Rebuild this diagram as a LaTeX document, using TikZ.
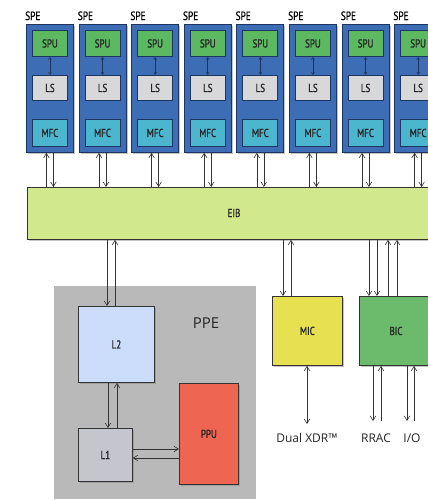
\documentclass[tikz,border=0pt]{standalone}
\usepackage{fontspec}
\setmainfont{Open Sans}
\newfontfamily\cond[FakeStretch=0.78,FakeBold=1.2]{PT Sans}
\newfontfamily\condl[FakeStretch=0.78,FakeBold=0.6]{PT Sans}
\usetikzlibrary{arrows.meta,shadows}
\definecolor{speblue}{HTML}{3D6DB5}
\definecolor{speedge}{HTML}{1F3561}
\definecolor{spugreen}{HTML}{5DB862}
\definecolor{lsgray}{HTML}{D8D8DA}
\definecolor{mfcteal}{HTML}{4DB6CF}
\definecolor{eibgreen}{HTML}{D2E88C}
\definecolor{ppegray}{HTML}{B9B9B9}
\definecolor{l2blue}{HTML}{CCDDFB}
\definecolor{l1gray}{HTML}{C4C5CD}
\definecolor{ppured}{HTML}{EE6552}
\definecolor{micyellow}{HTML}{E7E152}
\definecolor{bicgreen}{HTML}{6CBB6C}
\definecolor{linegray}{HTML}{333333}
\tikzset{
  box/.style={draw=linegray, line width=0.8pt, inner sep=0pt, anchor=north west,
    drop shadow={shadow xshift=1.5pt, shadow yshift=-1.5pt, opacity=0.45}},
  inner/.style={draw=speedge, line width=0.9pt, inner sep=0pt, anchor=north west,
    minimum width=35pt, font=\cond\fontsize{11.5}{12}\selectfont, text=black!85},
  conn/.style={draw=linegray, line width=0.6pt, -{Straight Barb[length=4.5pt,width=5.5pt]}},
  blab/.style={font=\cond\fontsize{11.5}{12}\selectfont, text=black!85},
  lab/.style={font=\fontsize{12}{13}\selectfont, text=black!85},
}
\begin{document}
\begin{tikzpicture}[x=1pt,y=-1pt]
\useasboundingbox (0,0) rectangle (428,501);
\fill[white] (0,0) rectangle (428,501);
% EIB
\node[box, fill=eibgreen, minimum width=420pt, minimum height=52pt] (eib) at (27,187) {};
\node[blab] at (234,213) {EIB};
% SPEs
\foreach \i in {0,...,7}{
  \pgfmathsetmacro{\L}{26+52.6*\i}
  \node[box, draw=speedge, fill=speblue, minimum width=47pt, minimum height=128pt] (spe\i) at (\L,24) {};
  \node[anchor=base west, inner sep=0pt, font=\condl\fontsize{12}{13}\selectfont] (spel\i) at (\L-1,20) {SPE};
  \node[inner, fill=spugreen, minimum height=26pt] (spu\i) at (\L+6,30) {SPU};
  \node[inner, fill=lsgray, minimum height=25pt] (ls\i) at (\L+6,75) {LS};
  \node[inner, fill=mfcteal, minimum height=27pt] (mfc\i) at (\L+6,119) {MFC};
  \draw[draw=speedge, line width=0.6pt, {Straight Barb[length=2.5pt,width=3pt]}-{Straight Barb[length=2.5pt,width=3pt]}] (spu\i.south) -- (ls\i.north);
  \draw[conn] ([xshift=-3.5pt]spe\i.south |- eib.north) -- ([xshift=-3.5pt]spe\i.south);
  \draw[conn] ([xshift=3.5pt]spe\i.south) -- ([xshift=3.5pt]spe\i.south |- eib.north);
}
% PPE
\node[fill=ppegray, inner sep=0pt, anchor=north west, minimum width=202pt, minimum height=213pt] (ppe) at (54,286) {};
\node[font=\fontsize{15}{17}\selectfont, text=black!85] (ppel) at (206,323) {PPE};
\node[box, fill=l2blue, minimum width=76pt, minimum height=76pt] (l2) at (78,306) {};
\node[blab] at (l2.center) {L2};
\node[box, fill=l1gray, minimum width=54pt, minimum height=53pt] (l1) at (78,428) {};
\node[blab] at (l1.center) {L1};
\node[box, fill=ppured, minimum width=59pt, minimum height=101pt] (ppu) at (179,383) {};
\node[blab] at (ppu.center) {PPU};
% MIC, BIC
\node[box, fill=micyellow, minimum width=70pt, minimum height=69pt] (mic) at (272,296) {};
\node[blab] at (mic.center) {MIC};
\node[box, fill=bicgreen, minimum width=74pt, minimum height=69pt] (bic) at (359,296) {};
\node[blab] at (396,331) {BIC};
% EIB <-> L2
\draw[conn] (107,0 |- eib.south) -- (107,0 |- l2.north);
\draw[conn] (115,0 |- l2.north) -- (115,0 |- eib.south);
% L2 <-> L1
\draw[conn] (108,0 |- l2.south) -- (108,0 |- l1.north);
\draw[conn] (117,0 |- l1.north) -- (117,0 |- l2.south);
% L1 <-> PPU
\draw[conn] (0,449 -| l1.east) -- (0,449 -| ppu.west);
\draw[conn] (0,458 -| ppu.west) -- (0,458 -| l1.east);
% EIB <-> MIC
\draw[conn] (283,0 |- eib.south) -- (283,0 |- mic.north);
\draw[conn] (291,0 |- mic.north) -- (291,0 |- eib.south);
% EIB <-> BIC
\draw[conn] (369,0 |- eib.south) -- (369,0 |- bic.north);
\draw[conn] (377,0 |- eib.south) -- (377,0 |- bic.north);
\draw[conn] (388,0 |- bic.north) -- (388,0 |- eib.south);
\draw[conn] (397,0 |- bic.north) -- (397,0 |- eib.south);
% bottom labels
\node[lab, anchor=base] (xdr) at (307,442) {Dual XDR™};
\node[lab, anchor=base] (rrac) at (376,442) {RRAC};
\node[lab, anchor=base] (io) at (412,442) {I/O};
\coordinate (xdrt) at (307,424);
\coordinate (rract) at (373,421);
\coordinate (rracu) at (381,421);
\coordinate (iot) at (407,421);
\coordinate (iou) at (414,421);
\draw[conn, {Straight Barb[length=4.5pt,width=5.5pt]}-{Straight Barb[length=4.5pt,width=5.5pt]}] (307,0 |- mic.south) -- (xdrt);
\draw[conn] (373,0 |- bic.south) -- (rract);
\draw[conn] (rracu) -- (381,0 |- bic.south);
\draw[conn] (407,0 |- bic.south) -- (iot);
\draw[conn] (iou) -- (414,0 |- bic.south);
\end{tikzpicture}
\end{document}
